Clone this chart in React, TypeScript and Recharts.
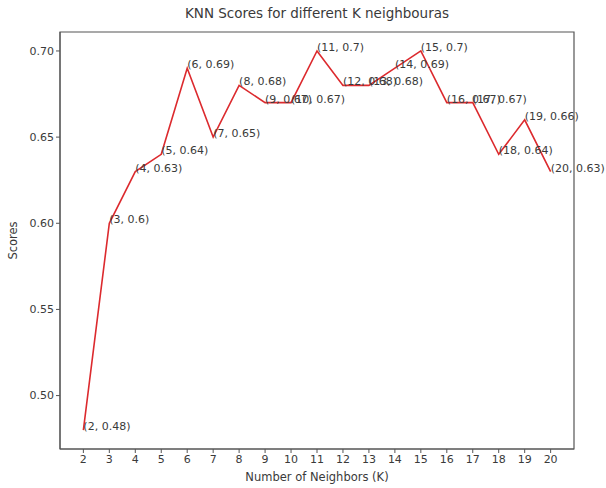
import { LineChart, Line, XAxis, YAxis, LabelList, Label, ReferenceArea } from 'recharts';

// K values and their test scores
const neighbors = [2, 3, 4, 5, 6, 7, 8, 9, 10, 11, 12, 13, 14, 15, 16, 17, 18, 19, 20];
const scores = [0.48, 0.6, 0.63, 0.64, 0.69, 0.65, 0.68, 0.67, 0.67, 0.7, 0.68, 0.68, 0.69, 0.7, 0.67, 0.67, 0.64, 0.66, 0.63];
const yTicks = [0.5, 0.55, 0.6, 0.65, 0.7];

const data = neighbors.map((k, i) => ({ k, score: scores[i] }));

const xDomain: [number, number] = [1.1, 20.9];
const yDomain: [number, number] = [0.469, 0.711];

const font = '"DejaVu Sans", sans-serif';
const axisColor = '#555';
const textColor = '#3a3a3a';

// matplotlib-style annotate: text starts at the point, baseline on it
const PointLabel = (props: any) => {
  const { x, y, index } = props;
  return (
    <text x={x} y={y} fontSize={11} fill={textColor} fontFamily={font}>
      {`(${neighbors[index]}, ${scores[index]})`}
    </text>
  );
};

export default function App() {
  return (
    <div style={{ position: 'absolute', left: 0, top: 0, background: '#fff' }}>
      <LineChart
        width={606}
        height={488}
        data={data}
        margin={{ top: 32, right: 32, bottom: 9, left: 15 }}
      >
        <text x={317} y={18} textAnchor="middle" fontSize={13.5} fill={textColor} fontFamily={font}>
          KNN Scores for different K neighbouras
        </text>
        <XAxis
          dataKey="k"
          type="number"
          domain={xDomain}
          ticks={neighbors}
          interval={0}
          height={30}
          stroke={axisColor}
          tickSize={4}
          tick={{ fill: textColor, fontSize: 11, fontFamily: font }}
          allowDataOverflow
        >
          <Label
            value="Number of Neighbors (K)"
            position="insideBottom"
            offset={-2}
            style={{ fill: textColor, fontSize: 11.5, fontFamily: font }}
          />
        </XAxis>
        <YAxis
          type="number"
          domain={yDomain}
          ticks={yTicks}
          width={45}
          stroke={axisColor}
          tickSize={4}
          tickFormatter={(v: number) => v.toFixed(2)}
          tick={{ fill: textColor, fontSize: 11, fontFamily: font }}
          allowDataOverflow
        >
          <Label
            value="Scores"
            angle={-90}
            position="insideLeft"
            offset={-2}
            style={{ fill: textColor, fontSize: 11.5, fontFamily: font, textAnchor: 'middle' }}
          />
        </YAxis>
        {/* axes frame */}
        <ReferenceArea
          x1={xDomain[0]}
          x2={xDomain[1]}
          y1={yDomain[0]}
          y2={yDomain[1]}
          fill="none"
          stroke={axisColor}
          strokeWidth={1.2}
          ifOverflow="visible"
        />
        <Line
          dataKey="score"
          stroke="#dc2a2e"
          strokeWidth={1.6}
          dot={false}
          isAnimationActive={false}
        >
          <LabelList dataKey="score" content={PointLabel} />
        </Line>
      </LineChart>
    </div>
  );
}
